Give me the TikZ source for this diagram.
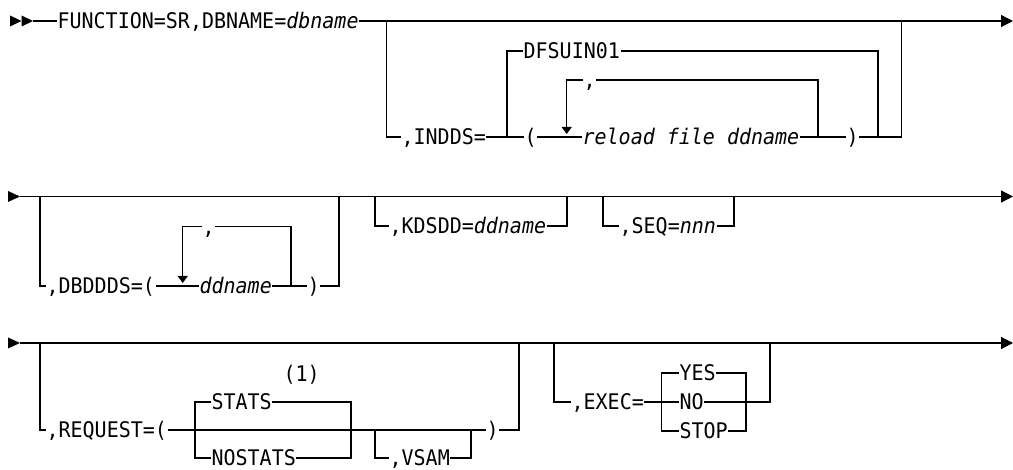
\documentclass[tikz,border=0pt]{standalone}
\usepackage{fontspec}
\setmonofont[FakeStretch=0.93]{DejaVu Sans Mono}
\usetikzlibrary{arrows.meta}
\newcommand{\synfont}{\fontsize{21.5pt}{26pt}\selectfont\ttfamily}

\begin{document}
\begin{tikzpicture}[x=1pt, y=-1pt, line width=1.2pt, >={Triangle[length=12pt,width=12pt]},
		kw/.style={anchor=west, inner sep=0pt, text height=15.6pt, text depth=0pt, font=\synfont},
		backtip/.style={-{Triangle[length=7pt,width=10pt]}}]
	\useasboundingbox (0,0) rectangle (1013,470);
	
	% 1. 第一行: FUNCTION, INDDS
	\fill (10,15.5) -- (21.5,21) -- (10,26.5) -- cycle;
	\fill (21.5,15.5) -- (33,21) -- (21.5,26.5) -- cycle;
	\coordinate (r1s) at (33,21);
	\coordinate (r1e) at (1013,21);
	\coordinate (j1a) at (386.7,21);
	\coordinate (j1b) at (901.7,21);
	\coordinate (c1a) at (507,137);
	\coordinate (c1b) at (878,137);
	\coordinate (l1a) at (566.7,134);
	\coordinate (l1b) at (818,137);
	\node[kw] (fn) at (57,21) {FUNCTION=SR,DBNAME=\textit{dbname}};
	\node[kw] (indds) at (401,137) {,INDDS=};
	\node[kw] (lp1) at (524,137) {(};
	\node[kw] (dfs) at (523,51) {DFSUIN01};
	\node[kw] (cm1) at (583,80) {,};
	\node[kw] (reload) at (582,137) {\textit{reload file ddname}};
	\node[kw] (rp1) at (846,137) {)};
	\draw (r1s) -- (fn.west);
	\draw[->] (fn.east) -- (r1e);
	\draw (j1a) |- (indds.west);
	\draw (indds.east) -- (lp1.west);
	\draw (c1a) |- (dfs.west);
	\draw (dfs.east) -| (c1b);
	\draw (lp1.east) -- (reload.west);
	\draw (l1b) |- (cm1.east);
	\draw[backtip] (cm1.west) -| (l1a);
	\draw (reload.east) -- (rp1.west);
	\draw (rp1.east) -| (j1b);
	
	% 2. 第二行: DBDDDS, KDSDD, SEQ
	\fill (8,191) -- (20,196.5) -- (8,202) -- cycle;
	\coordinate (r2s) at (20,196.5);
	\coordinate (r2e) at (1013,196.5);
	\coordinate (j2a) at (40,196.5);
	\coordinate (j2b) at (339,196.5);
	\coordinate (l2a) at (182.7,283);
	\coordinate (l2b) at (291,286);
	\draw[->] (r2s) -- (r2e);
	\node[kw] (dbd) at (46,286) {,DBDDDS=(};
	\node[kw] (cm2) at (202,226.7) {,};
	\node[kw] (ddn) at (199,286) {\textit{ddname}};
	\node[kw] (rp2) at (307,286) {)};
	\draw (j2a) |- (dbd.west);
	\draw (dbd.east) -- (ddn.west);
	\draw (l2b) |- (cm2.east);
	\draw[backtip] (cm2.west) -| (l2a);
	\draw (ddn.east) -- (rp2.west);
	\draw (rp2.east) -| (j2b);
	\coordinate (j2c) at (375,196.5);
	\coordinate (j2d) at (567,196.5);
	\node[kw] (kds) at (389,226) {,KDSDD=\textit{ddname}};
	\draw (j2c) |- (kds.west);
	\draw (kds.east) -| (j2d);
	\coordinate (j2e) at (603,196.5);
	\coordinate (j2f) at (734,196.5);
	\node[kw] (seq) at (619,226) {,SEQ=\textit{nnn}};
	\draw (j2e) |- (seq.west);
	\draw (seq.east) -| (j2f);
	
	% 3. 第三行: REQUEST, EXEC
	\fill (8,337.5) -- (20,343) -- (8,348.5) -- cycle;
	\coordinate (r3s) at (20,343);
	\coordinate (r3e) at (1013,343);
	\coordinate (j3a) at (40,343);
	\coordinate (j3b) at (519,343);
	\coordinate (c3a) at (195,430);
	\coordinate (c3b) at (351,430);
	\coordinate (v3a) at (375,430);
	\coordinate (v3b) at (471,430);
	\draw[->] (r3s) -- (r3e);
	\node[kw] (req) at (46,430) {,REQUEST=(};
	\node[kw] (stats) at (211,402) {STATS};
	\node[kw] (nostats) at (211,458) {NOSTATS};
	\node[kw, anchor=center] (note1) at (301.7,374) {(1)};
	\node[kw] (vsam) at (389,458) {,VSAM};
	\node[kw] (rp3) at (486,430) {)};
	\draw (j3a) |- (req.west);
	\draw (req.east) -- (rp3.west);
	\draw (stats.west) -| (c3a) |- (nostats.west);
	\draw (stats.east) -| (c3b) |- (nostats.east);
	\draw (v3a) |- (vsam.west);
	\draw (vsam.east) -| (v3b);
	\draw (rp3.east) -| (j3b);
	\coordinate (j3c) at (554,343);
	\coordinate (j3d) at (770,343);
	\coordinate (c3c) at (661.7,402);
	\coordinate (c3d) at (746,402);
	\node[kw] (exec) at (571,402) {,EXEC=};
	\node[kw] (yes) at (679,373) {YES};
	\node[kw] (no) at (679,402) {NO};
	\node[kw] (stop) at (679,431) {STOP};
	\draw (j3c) |- (exec.west);
	\draw (exec.east) -- (no.west);
	\draw (yes.west) -| (c3c) |- (stop.west);
	\draw (yes.east) -| (c3d) |- (stop.east);
	\draw (no.east) -| (j3d);
\end{tikzpicture}
\end{document}
